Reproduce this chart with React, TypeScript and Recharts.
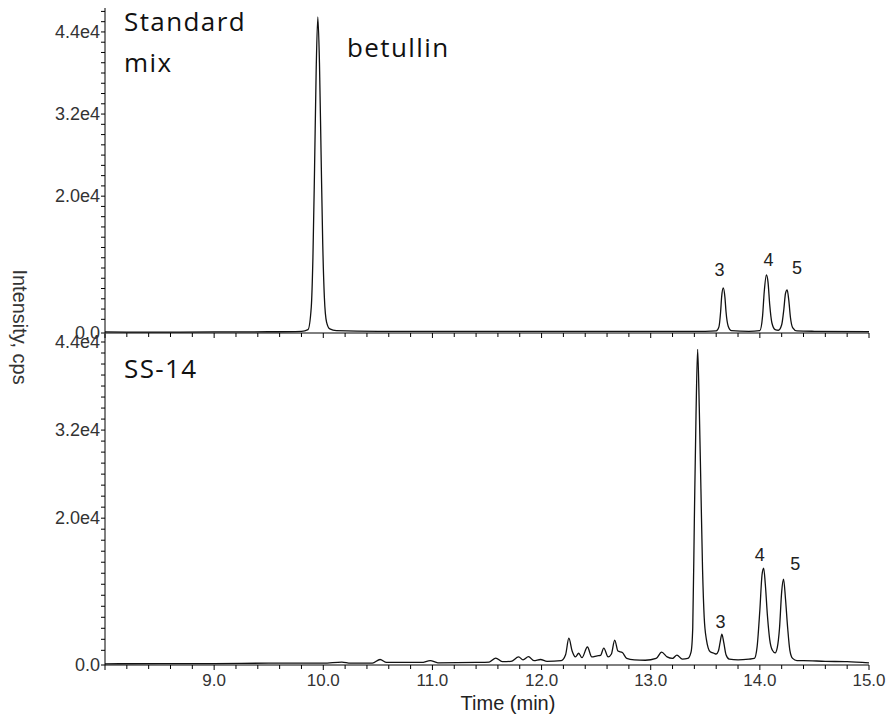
import React from 'react'
import { LineChart, Line, XAxis, YAxis, ReferenceDot } from 'recharts'

// Standard mix trace (time in min, intensity in cps)
const mixTimes = [
  8.0, 8.5, 9.0, 9.5, 9.8, 9.86, 9.89, 9.905, 9.92, 9.935, 9.95, 9.965, 9.98, 9.995, 10.01, 10.03, 10.06, 10.12,
  10.5, 11.0, 11.5, 12.0, 12.5, 13.0, 13.5, 13.6, 13.625, 13.64, 13.65, 13.665, 13.68, 13.69, 13.71, 13.74, 13.9,
  14.0, 14.025, 14.04, 14.06, 14.075, 14.09, 14.11, 14.14, 14.17, 14.2, 14.22, 14.235, 14.25, 14.265, 14.28, 14.3,
  14.34, 14.5, 15.0,
]
const mixValues = [
  150, 120, 150, 180, 250, 500, 3800, 11000, 24000, 38500, 46200, 39500, 26000, 13000, 5200, 1600, 600, 350,
  250, 250, 230, 250, 250, 230, 250, 300, 900, 3000, 5300, 6580, 5200, 3100, 1000, 350, 250,
  350, 2500, 6000, 8480, 7400, 4200, 1500, 500, 400, 1200, 3500, 5800, 6290, 4800, 2300, 800,
  300, 250, 200,
]

// SS-14 trace
const ssTimes = [
  8.0, 8.5, 9.0, 9.5, 10.0, 10.17, 10.25, 10.45, 10.52, 10.58, 10.9, 10.98, 11.05, 11.4, 11.52, 11.58, 11.64, 11.72,
  11.79, 11.83, 11.88, 11.93, 11.99, 12.05, 12.18, 12.22, 12.25, 12.28, 12.31, 12.34, 12.37, 12.42, 12.46, 12.51,
  12.54, 12.57, 12.61, 12.64, 12.67, 12.7, 12.74, 12.78, 12.85, 12.95, 13.05, 13.1, 13.15, 13.2, 13.24, 13.29,
  13.34, 13.37, 13.385, 13.4, 13.415, 13.43, 13.445, 13.46, 13.475, 13.49, 13.51, 13.545, 13.58, 13.6, 13.62,
  13.635, 13.652, 13.67, 13.69, 13.72, 13.8, 13.9, 13.95, 13.975, 14.0, 14.02, 14.035, 14.05, 14.07, 14.09,
  14.115, 14.14, 14.16, 14.18, 14.2, 14.217, 14.235, 14.255, 14.275, 14.3, 14.34, 14.4, 14.6, 14.8, 15.0,
]
const ssValues = [
  150, 200, 200, 250, 250, 400, 250, 250, 750, 350, 350, 600, 300, 350, 400, 950, 450, 500,
  1100, 700, 1150, 600, 750, 500, 600, 1400, 3650, 1900, 1100, 1600, 1000, 2450, 1100, 1250,
  1300, 2300, 1100, 1500, 3400, 1900, 1700, 900, 700, 650, 900, 1750, 1100, 900, 1350, 800,
  900, 1800, 5000, 20000, 34000, 43000, 35000, 24000, 13000, 6500, 3500, 1800, 1600, 1500, 1900,
  3000, 4200, 3000, 1400, 800, 700, 800, 900, 2500, 7500, 12300, 13200, 11000, 6600, 3500,
  2000, 1650, 2400, 5000, 10000, 11700, 9000, 5000, 2000, 900, 600, 600, 500, 450, 300,
]

// axis ticks
const xLabelTicks = [9, 10, 11, 12, 13, 14, 15]
const yLabelTicks = [0, 20000, 32000, 44000]

// peak labels
const peakNames = ['3', '4', '5']
const mixLabelTimes = [13.63, 14.08, 14.34]
const mixLabelValues = [9210, 10670, 9500]
const ssLabelTimes = [13.64, 14.0, 14.325]
const ssLabelValues = [5900, 14990, 13860]

const mixData = mixTimes.map((t, i) => ({ t, v: mixValues[i] }))
const ssData = ssTimes.map((t, i) => ({ t, v: ssValues[i] }))

const xTicks: number[] = []
for (let k = 0; k <= 35; k++) xTicks.push(Math.round((8 + k * 0.2) * 10) / 10)

const yTicksUpTo = (max: number) => {
  const out = [0]
  for (let v = 2000; v <= max; v += 1500) out.push(v)
  return out
}

const AXIS_FONT = '"Liberation Sans", Arial, sans-serif'
const TITLE_FONT = '"Open Sans", "Noto Sans", sans-serif'

const XTick = (props: any) => {
  const { x, y, payload, showLabel } = props
  const v = payload.value
  const major = Math.abs(v - Math.round(v)) < 1e-6
  const labeled = showLabel && xLabelTicks.some((t) => Math.abs(t - v) < 1e-6)
  return (
    <g>
      <line x1={x} x2={x} y1={y} y2={y + (major ? 5 : 4)} stroke='#000' />
      {labeled && (
        <text x={x} y={y + 21} textAnchor='middle' fontSize={17} fontFamily={AXIS_FONT} fill='#333'>
          {v.toFixed(1)}
        </text>
      )}
    </g>
  )
}

const YTick = (props: any) => {
  const { x, y, payload } = props
  const v = payload.value
  const labeled = yLabelTicks.includes(v)
  return (
    <g>
      <line x1={x - 4} x2={x} y1={y} y2={y} stroke='#000' />
      {labeled && (
        <text x={x - 5} y={y + 6} textAnchor='end' fontSize={18} fontFamily={AXIS_FONT} fill='#333'>
          {v === 0 ? '0.0' : (v / 10000).toFixed(1) + 'e4'}
        </text>
      )}
    </g>
  )
}

function Trace({
  data,
  height,
  yMax,
  xAxisHeight,
  showXLabels,
  labelTimes,
  labelValues,
}: {
  data: { t: number; v: number }[]
  height: number
  yMax: number
  xAxisHeight: number
  showXLabels: boolean
  labelTimes: number[]
  labelValues: number[]
}) {
  return (
    <LineChart width={887} height={height} data={data} margin={{ top: 8, right: 18, bottom: 0, left: 0 }}>
      <XAxis
        dataKey='t'
        type='number'
        domain={[8, 15]}
        ticks={xTicks}
        interval={0}
        height={xAxisHeight}
        tickSize={0}
        tickMargin={0}
        tickLine={false}
        axisLine={{ stroke: '#000' }}
        tick={(p: any) => <XTick {...p} showLabel={showXLabels} />}
      />
      <YAxis
        type='number'
        domain={[0, yMax]}
        ticks={yTicksUpTo(yMax)}
        interval={0}
        width={105}
        tickSize={0}
        tickMargin={0}
        tickLine={false}
        axisLine={{ stroke: '#000' }}
        tick={(p: any) => <YTick {...p} />}
      />
      <Line
        type='monotone'
        dataKey='v'
        stroke='#111'
        strokeWidth={1.3}
        dot={false}
        isAnimationActive={false}
      />
      {peakNames.map((name, i) => (
        <ReferenceDot
          key={name}
          x={labelTimes[i]}
          y={labelValues[i]}
          r={1}
          fill='none'
          stroke='none'
          label={{ value: name, position: 'center', fontSize: 18, fill: '#222', fontFamily: AXIS_FONT }}
        />
      ))}
    </LineChart>
  )
}

export default function App() {
  return (
    <div style={{ position: 'absolute', left: 0, top: 0, width: 887, height: 717, background: '#fff', overflow: 'hidden' }}>
      <div style={{ position: 'absolute', left: 0, top: 0 }}>
        <Trace
          data={mixData}
          height={345}
          yMax={47500}
          xAxisHeight={12}
          showXLabels={false}
          labelTimes={mixLabelTimes}
          labelValues={mixLabelValues}
        />
      </div>
      <div style={{ position: 'absolute', left: 0, top: 326 }}>
        <Trace
          data={ssData}
          height={391}
          yMax={45090}
          xAxisHeight={52}
          showXLabels={true}
          labelTimes={ssLabelTimes}
          labelValues={ssLabelValues}
        />
      </div>
      <svg width={887} height={717} style={{ position: 'absolute', left: 0, top: 0, pointerEvents: 'none' }}>
        <g fontFamily={TITLE_FONT} fontSize={26} fill='#111' letterSpacing={1.4}>
          <text x={124} y={31}>Standard</text>
          <text x={124} y={72}>mix</text>
          <text x={347} y={57}>betullin</text>
          <text x={124} y={378}>SS-14</text>
        </g>
        <text
          x={20}
          y={327}
          transform='rotate(90, 20, 327)'
          textAnchor='middle'
          dominantBaseline='central'
          fontSize={20}
          fontFamily={AXIS_FONT}
          fill='#333'
        >
          Intensity, cps
        </text>
        <text x={508} y={710} textAnchor='middle' fontSize={20} fontFamily={AXIS_FONT} fill='#222'>
          Time (min)
        </text>
      </svg>
    </div>
  )
}
